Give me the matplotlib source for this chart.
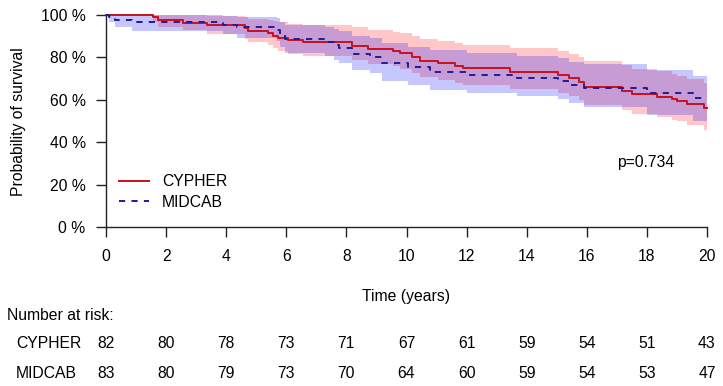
import matplotlib
matplotlib.use("Agg")
import matplotlib.pyplot as plt
import matplotlib.transforms as mtransforms

plt.rcParams['font.family'] = ['Liberation Sans', 'DejaVu Sans']

# ---- data ----
cypher_t = [0, 1.57, 1.73, 2.57, 3.37, 4.63, 4.74, 5.40, 5.57, 5.73, 6.07, 6.57, 8.18, 8.73,
            9.56, 9.78, 10.17, 10.45, 11.06, 11.60, 11.88, 13.44, 15.05, 15.40, 15.75, 15.90,
            17.16, 17.49, 18.33, 18.82, 18.99, 19.32, 19.90, 20.0]
cypher_s = [100, 98.8, 97.6, 96.3, 95.1, 93.6, 92.3, 91.2, 90.1, 89.2, 88.1, 87.0, 85.5, 84.1,
            82.9, 81.8, 80.2, 78.4, 77.1, 75.9, 74.8, 73.2, 71.6, 70.1, 68.2, 66.1,
            64.3, 62.6, 61.4, 60.2, 59.4, 57.8, 56.3, 56.3]
cypher_up = [100, 100, 100, 99.8, 99.5, 98.9, 98.2, 97.6, 97.0, 96.4, 95.7, 95.0, 94.0, 93.0,
             92.0, 91.2, 90.0, 88.6, 87.6, 86.6, 85.7, 84.3, 82.9, 81.6, 79.9, 78.0,
             76.2, 74.6, 73.4, 72.2, 71.3, 69.6, 67.8, 67.8]
cypher_lo = [100, 96.4, 94.3, 92.6, 90.7, 88.6, 87.0, 85.6, 84.2, 83.0, 81.7, 80.4, 78.7, 77.0,
             75.7, 74.4, 72.7, 70.8, 69.4, 68.0, 66.8, 65.1, 63.4, 61.8, 59.8, 57.6,
             55.3, 53.3, 52.0, 50.7, 49.8, 47.9, 45.8, 45.8]

midcab_t = [0, 0.10, 0.30, 0.85, 3.90, 4.35, 5.68, 5.80, 5.96, 7.30, 7.60, 7.75, 8.18, 8.78,
            9.17, 10.06, 10.78, 12.00, 13.67, 15.05, 15.40, 15.90, 17.99, 19.54, 20.0]
midcab_s = [100, 98.8, 97.6, 96.4, 95.2, 94.0, 92.8, 90.5, 88.4, 87.0, 85.7, 84.4, 81.5, 80.2,
            77.4, 75.2, 73.0, 71.6, 70.1, 68.6, 66.9, 65.4, 63.0, 60.7, 60.7]
midcab_up = [100, 100, 100, 100, 99.6, 99.0, 98.3, 96.8, 95.2, 94.2, 93.2, 92.2, 90.0, 89.0,
             86.8, 85.0, 83.2, 82.0, 80.7, 79.4, 77.9, 76.6, 73.8, 71.0, 71.0]
midcab_lo = [100, 96.4, 94.3, 92.5, 90.8, 89.2, 87.6, 84.6, 82.0, 80.4, 78.8, 77.3, 74.0, 72.6,
             69.0, 67.0, 64.8, 63.3, 61.8, 60.2, 58.4, 56.8, 53.0, 49.8, 49.8]

groups = ["CYPHER", "MIDCAB"]
risk_times = [0, 2, 4, 6, 8, 10, 12, 14, 16, 18, 20]
cypher_risk = [82, 80, 78, 73, 71, 67, 61, 59, 54, 51, 43]
midcab_risk = [83, 80, 79, 73, 70, 64, 60, 59, 54, 53, 47]
y_ticks = [0, 20, 40, 60, 80, 100]
p_text = "p=0.734"

# ---- figure ----
W, H = 723, 386
fig = plt.figure(figsize=(W / 100, H / 100), dpi=100)
ax = fig.add_axes([106 / W, (H - 227.3) / H, 601 / W, 212.6 / H])
ax.set_xlim(0, 20)
ax.set_ylim(0, 100)

red = '#C8101E'
blue = '#1C1C9C'
fs = 11.3

ax.fill_between(cypher_t, cypher_lo, cypher_up, step='post', color='red', alpha=0.22,
                lw=0, clip_on=False, zorder=1)
ax.fill_between(midcab_t, midcab_lo, midcab_up, step='post', color='blue', alpha=0.22,
                lw=0, clip_on=False, zorder=1)
ax.plot(cypher_t, cypher_s, drawstyle='steps-post', color=red, lw=1.4, clip_on=False,
        zorder=3, label=groups[0])
ax.plot(midcab_t, midcab_s, drawstyle='steps-post', color=blue, lw=1.4, clip_on=False,
        zorder=3, linestyle=(0, (3.2, 3.2)), label=groups[1])

for s in ['top', 'right']:
    ax.spines[s].set_visible(False)
ax.spines['left'].set_bounds(0, 100)
ax.spines['bottom'].set_bounds(0, 20)
for s in ['left', 'bottom']:
    ax.spines[s].set_linewidth(1.0)
    ax.spines[s].set_color('#222222')

ax.set_xticks(risk_times)
ax.set_xticklabels([str(t) for t in risk_times], fontsize=fs)
ax.set_yticks(y_ticks)
ax.set_yticklabels([f"{v} %" for v in y_ticks], fontsize=fs)
ax.tick_params(axis='both', length=7.2, width=1.0, color='#222222')
ax.tick_params(axis='x', pad=8.3)
ax.tick_params(axis='y', pad=7.5)

fig.text(19 / W, 1 - 122 / H, "Probability of survival", rotation=90, ha='center',
         va='center', fontsize=fs)
fig.text(406 / W, 1 - 296 / H, "Time (years)", ha='center', va='center', fontsize=fs)
ax.text(646 / W, 1 - 163 / H, p_text, transform=fig.transFigure, ha='center',
        va='center', fontsize=fs)

leg = ax.legend(loc='center left', bbox_to_anchor=(119 / W, 1 - 192 / H),
                bbox_transform=fig.transFigure, frameon=False, fontsize=fs,
                handlelength=1.9, handletextpad=0.85, labelspacing=0.38,
                borderpad=0, borderaxespad=0)

trans = mtransforms.blended_transform_factory(ax.transData, fig.transFigure)
fig.text(7 / W, 1 - 316 / H, "Number at risk:", ha='left', va='center', fontsize=fs)
for name, risk, yy in [(groups[0], cypher_risk, 343), (groups[1], midcab_risk, 373)]:
    fig.text(16 / W, 1 - yy / H, name, ha='left', va='center', fontsize=fs)
    for t, n in zip(risk_times, risk):
        ax.text(t, 1 - yy / H, str(n), transform=trans, ha='center', va='center',
                fontsize=fs, clip_on=False)

fig.savefig("out.png", dpi=100)
